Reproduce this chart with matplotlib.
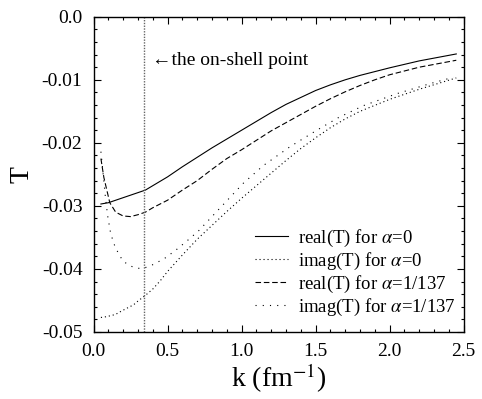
import matplotlib
matplotlib.use('Agg')
import matplotlib.pyplot as plt
from matplotlib.ticker import MultipleLocator

plt.rcParams['font.family'] = ['Liberation Serif', 'DejaVu Serif']
plt.rcParams['mathtext.fontset'] = 'stix'
plt.rcParams['axes.unicode_minus'] = False

# real(T), alpha = 0 (solid)
k_re0 = [0.05, 0.10, 0.20, 0.30, 0.35, 0.40, 0.50, 0.60, 0.70, 0.80, 0.90, 1.00,
         1.10, 1.20, 1.30, 1.40, 1.50, 1.60, 1.70, 1.80, 2.00, 2.20, 2.45]
t_re0 = [-0.0297, -0.0295, -0.0287, -0.0279, -0.0275, -0.0268, -0.0254, -0.0238,
         -0.0223, -0.0208, -0.0194, -0.0180, -0.0166, -0.0152, -0.0139, -0.0128,
         -0.0117, -0.0108, -0.0100, -0.0093, -0.0081, -0.0070, -0.0059]

# imag(T), alpha = 0 (dense dots)
k_im0 = [0.05, 0.08, 0.12, 0.15, 0.18, 0.22, 0.27, 0.30, 0.35, 0.40, 0.45, 0.50,
         0.55, 0.60, 0.70, 0.80, 0.90, 1.00, 1.10, 1.20, 1.30, 1.40, 1.50, 1.60,
         1.70, 1.80, 2.00, 2.20, 2.45]
t_im0 = [-0.0477, -0.0476, -0.0474, -0.0472, -0.0468, -0.0463, -0.0457, -0.0451,
         -0.0442, -0.0432, -0.0419, -0.0404, -0.0391, -0.0378, -0.0353, -0.0331,
         -0.0309, -0.0288, -0.0268, -0.0248, -0.0228, -0.0209, -0.0192, -0.0176,
         -0.0162, -0.0150, -0.0131, -0.0115, -0.0097]

# real(T), alpha = 1/137 (dashed)
k_re1 = [0.05, 0.07, 0.09, 0.11, 0.15, 0.20, 0.25, 0.30, 0.35, 0.40, 0.50, 0.60,
         0.70, 0.80, 0.90, 1.00, 1.10, 1.20, 1.30, 1.40, 1.50, 1.60, 1.70, 1.80,
         1.90, 2.00, 2.20, 2.45]
t_re1 = [-0.0225, -0.0255, -0.0275, -0.0295, -0.0310, -0.0316, -0.0317, -0.0314,
         -0.0310, -0.0303, -0.0291, -0.0275, -0.0260, -0.0242, -0.0225, -0.0211,
         -0.0196, -0.0181, -0.0168, -0.0155, -0.0142, -0.0130, -0.0119, -0.0109,
         -0.0100, -0.0092, -0.0080, -0.0069]

# imag(T), alpha = 1/137 (sparse dots)
k_im1 = [0.05, 0.08, 0.095, 0.116, 0.147, 0.197, 0.238, 0.287, 0.336, 0.386,
         0.476, 0.557, 0.634, 0.708, 0.832, 1.012, 1.147, 1.328, 1.508, 1.654,
         1.823, 2.049, 2.274, 2.43]
t_im1 = [-0.0214, -0.0285, -0.0315, -0.0344, -0.0366, -0.0387, -0.0394, -0.0399,
         -0.0399, -0.0395, -0.0384, -0.0370, -0.0355, -0.0340, -0.0309, -0.0264,
         -0.0236, -0.0206, -0.0180, -0.0160, -0.0141, -0.0122, -0.0106, -0.0096]

k_onshell = 0.343
xticks = [0.0, 0.5, 1.0, 1.5, 2.0, 2.5]
xtick_labels = ['0.0', '0.5', '1.0', '1.5', '2.0', '2.5']
yticks = [0.0, -0.01, -0.02, -0.03, -0.04, -0.05]
ytick_labels = ['0.0', '-0.01', '-0.02', '-0.03', '-0.04', '-0.05']

fig = plt.figure(figsize=(4.82, 3.99), dpi=100)
ax = fig.add_axes([0.194, 0.168, 0.768, 0.790])

lw = 0.8
ax.plot(k_re0, t_re0, color='black', lw=lw, label=r'real(T) for $\alpha$=0')
ax.plot(k_im0, t_im0, color='black', lw=lw, dashes=(1, 2.6),
        label=r'imag(T) for $\alpha$=0')
ax.plot(k_re1, t_re1, color='black', lw=lw, dashes=(5, 2.5),
        label=r'real(T) for $\alpha$=1/137')
ax.plot(k_im1, t_im1, color='black', lw=lw, dashes=(1, 5.5),
        label=r'imag(T) for $\alpha$=1/137')

ax.axvline(k_onshell, color='0.4', lw=1.0, ls=(0, (1, 1)))
ax.text(0.392, -0.0070, '\u2190the on-shell point', fontsize=14,
        ha='left', va='center')

ax.set_xlim(0, 2.5)
ax.set_ylim(-0.05, 0.0)
ax.set_xticks(xticks)
ax.set_xticklabels(xtick_labels)
ax.set_yticks(yticks)
ax.set_yticklabels(ytick_labels)
ax.xaxis.set_minor_locator(MultipleLocator(0.1))
ax.yaxis.set_minor_locator(MultipleLocator(0.002))
ax.tick_params(which='both', direction='in', top=True, right=True,
               labelsize=14, width=0.8)
ax.tick_params(which='major', length=5)
ax.tick_params(which='minor', length=2.5)
ax.tick_params(axis='x', which='major', pad=8)
ax.tick_params(axis='y', which='major', pad=8)
for s in ax.spines.values():
    s.set_linewidth(1.0)

ax.set_xlabel('k (fm$^{-1}$)', fontsize=20, labelpad=1)
ax.set_ylabel('T', fontsize=20, labelpad=5)

ax.legend(loc='lower right', bbox_to_anchor=(0.979, 0.045), frameon=False,
          fontsize=13.5, handlelength=1.75, handletextpad=0.55,
          labelspacing=0.1, borderpad=0, borderaxespad=0)

fig.savefig('out.png', dpi=100)
